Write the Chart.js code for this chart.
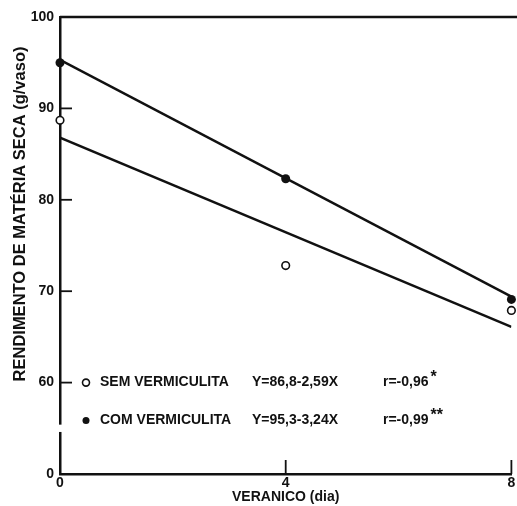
<!DOCTYPE html>
<html>
<head>
<meta charset="utf-8">
<script src="https://cdn.jsdelivr.net/npm/chart.js@4.4.1/dist/chart.umd.min.js"></script>
<style>
  html, body { margin: 0; padding: 0; background: #fff; }
  #wrap { width: 517px; height: 506px; }
</style>
</head>
<body>
<div id="wrap"><canvas id="veranico_chart"></canvas></div>
<script>
// days of veranico
const dias = [0, 4, 8]
// measured points (g/vaso)
const sem_vermiculita = [88.7, 72.8, 67.9]
const com_vermiculita = [95.0, 82.3, 69.1]
// regression lines read at x = 0 and x = 8
const line_x = [0, 8]
const sem_line = [86.8, 66.1]
const com_line = [95.3, 69.4]
// tick labels
const y_ticks = [50, 60, 70, 80, 90, 100]
const x_ticks = [0, 4, 8]

const ink = '#111'
const family = '"Liberation Sans", Arial, sans-serif'

const toPoints = (xs, ys) => xs.map((x, i) => ({x: x, y: ys[i]}))

// inside ticks, top border, axis break, y title and in-plot legend
const decorations = {
  id: 'decorations',
  afterDraw(chart) {
    const ctx = chart.ctx
    const a = chart.chartArea
    const xs = chart.scales.x
    const ys = chart.scales.y
    ctx.save()
    ctx.strokeStyle = ink
    ctx.fillStyle = ink

    // top line at 100
    ctx.lineWidth = 2.5
    ctx.beginPath()
    ctx.moveTo(a.left, ys.getPixelForValue(100))
    ctx.lineTo(chart.width, ys.getPixelForValue(100))
    ctx.stroke()

    // y ticks going inside
    ctx.lineWidth = 1.8
    ;[60, 70, 80, 90].forEach(v => {
      const y = ys.getPixelForValue(v)
      ctx.beginPath()
      ctx.moveTo(a.left, y)
      ctx.lineTo(a.left + 12, y)
      ctx.stroke()
    })
    // x ticks going up
    ;[4, 8].forEach(v => {
      const x = xs.getPixelForValue(v)
      ctx.beginPath()
      ctx.moveTo(x, a.bottom)
      ctx.lineTo(x, a.bottom - 14)
      ctx.stroke()
    })

    // axis break
    ctx.fillStyle = '#fff'
    const b1 = ys.getPixelForValue(55.4)
    const b2 = ys.getPixelForValue(54.6)
    ctx.fillRect(a.left - 3, b1, 6, b2 - b1)
    ctx.fillStyle = ink

    // y title
    ctx.save()
    ctx.translate(20, 214)
    ctx.rotate(-Math.PI / 2)
    ctx.font = 'bold 16.5px ' + family
    ctx.textAlign = 'center'
    ctx.textBaseline = 'middle'
    ctx.fillText('RENDIMENTO DE MATÉRIA SECA (g/vaso)', 0, 0)
    ctx.restore()

    // legend rows
    ctx.font = 'bold 14px ' + family
    ctx.textBaseline = 'middle'
    ctx.textAlign = 'left'
    const rows = [
      {y: ys.getPixelForValue(60), filled: false, name: 'SEM VERMICULITA', eq: 'Y=86,8-2,59X', r: 'r=-0,96', sig: '*'},
      {y: ys.getPixelForValue(60) + 38, filled: true, name: 'COM VERMICULITA', eq: 'Y=95,3-3,24X', r: 'r=-0,99', sig: '**'}
    ]
    rows.forEach(row => {
      ctx.beginPath()
      ctx.arc(a.left + 26, row.y, 3.5, 0, Math.PI * 2)
      if (row.filled) { ctx.fill() } else { ctx.lineWidth = 1.6; ctx.stroke() }
      ctx.fillText(row.name, a.left + 40, row.y)
      ctx.fillText(row.eq, a.left + 192, row.y)
      ctx.fillText(row.r, a.left + 323, row.y)
      const w = ctx.measureText(row.r).width
      ctx.font = 'bold 16px ' + family
      ctx.fillText(row.sig, a.left + 325 + w, row.y - 5)
      ctx.font = 'bold 14px ' + family
    })
    ctx.restore()
  }
}

let veranico_document = document.getElementById('veranico_chart').getContext('2d')

let veranico_chart = new Chart(veranico_document, {
  type: 'scatter',
  data: {
    datasets: [
      {
        label: 'Sem vermiculita',
        data: toPoints(dias, sem_vermiculita),
        clip: false,
        pointRadius: 3.8,
        pointBorderWidth: 1.6,
        pointBackgroundColor: '#fff',
        pointBorderColor: ink
      },
      {
        label: 'Com vermiculita',
        data: toPoints(dias, com_vermiculita),
        clip: false,
        pointRadius: 4.5,
        pointBorderWidth: 0,
        pointBackgroundColor: ink,
        pointBorderColor: ink
      },
      {
        label: 'Reta sem',
        data: toPoints(line_x, sem_line),
        showLine: true,
        borderColor: ink,
        borderWidth: 2.5,
        pointRadius: 0
      },
      {
        label: 'Reta com',
        data: toPoints(line_x, com_line),
        showLine: true,
        borderColor: ink,
        borderWidth: 2.5,
        pointRadius: 0
      }
    ]
  },
  options: {
    responsive: true,
    maintainAspectRatio: false,
    animation: false,
    layout: {padding: {top: 17, right: 4, left: 0, bottom: 0}},
    plugins: {legend: {display: false}, tooltip: {enabled: false}},
    scales: {
      x: {
        type: 'linear',
        min: 0,
        max: 8,
        afterFit: scale => { scale.height = 32 },
        afterBuildTicks: scale => { scale.ticks = x_ticks.map(v => ({value: v})) },
        grid: {display: false, drawTicks: false},
        border: {display: true, color: ink, width: 2.5},
        ticks: {color: ink, font: {family: family, size: 14, weight: 'bold'}, padding: 1, maxRotation: 0},
        title: {display: true, text: 'VERANICO (dia)', color: ink, font: {family: family, size: 14, weight: 'bold'}, padding: {top: 0, bottom: 0}}
      },
      y: {
        type: 'linear',
        min: 50,
        max: 100,
        afterFit: scale => { scale.width = 60 },
        afterBuildTicks: scale => { scale.ticks = y_ticks.map(v => ({value: v})) },
        grid: {display: false, drawTicks: false},
        border: {display: true, color: ink, width: 2.5},
        ticks: {
          color: ink,
          font: {family: family, size: 14, weight: 'bold'},
          padding: 6,
          callback: value => value === 50 ? '0' : value
        }
      }
    }
  },
  plugins: [decorations]
})
</script>
</body>
</html>
